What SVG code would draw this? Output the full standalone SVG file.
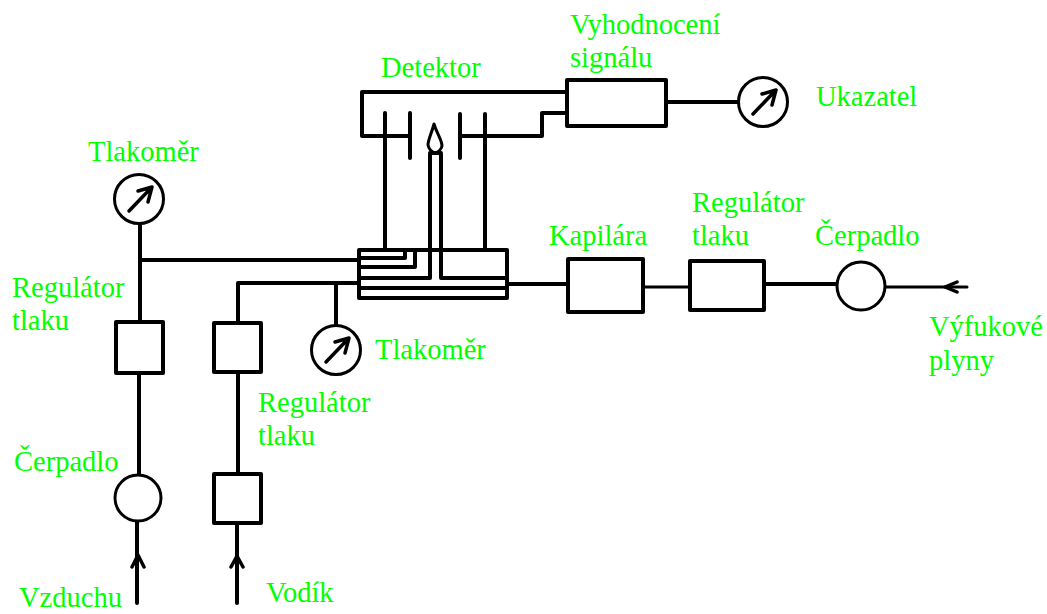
<svg xmlns="http://www.w3.org/2000/svg" width="1047" height="614" viewBox="0 0 1047 614">
<style>
.l{fill:none;stroke:#000;stroke-width:4;stroke-linecap:round;stroke-linejoin:round}
.t{stroke-width:3}
.b{fill:#fff;stroke:#000;stroke-width:4;stroke-linejoin:round}
.c{fill:#fff;stroke:#000;stroke-width:3}
.a{fill:none;stroke:#000;stroke-width:3.5;stroke-linecap:round;stroke-linejoin:round}
text{font-family:"Liberation Serif","Times New Roman",serif;font-size:28.5px;fill:#00ff00}
</style>
<defs>
<g id="gauge"><circle class="c" r="24.5"/><path class="a" d="M-10 12L13 -12M-1 -8L13 -12L9 3"/></g>
</defs>
<rect width="1047" height="614" fill="#fff"/>
<g id="manifold">
<rect class="b" x="359" y="250" width="148" height="48"/>
<path class="l" d="M359 258H405V250M359 267H415V250M359 288H507"/>
</g>
<g id="connectors">
<path class="l" d="M567 92H362V136H410M410 113V158M385 113V249M460 114V158M460 136H542V113H567M485 114V249"/>
<path class="l" d="M430 154V278H360M441 154V278H507M430 153H441"/>
<path class="l" d="M140 225V321M140 260H357M139 374V476M137 520V603M238 283H357M238 283V322M238 372V473M237 524V603M336 283V325"/>
<path class="l" d="M667 102H740M508 284H567M765 284H837"/>
<path class="l t" d="M643 287H689M885 287H967"/>
<path class="a" d="M132 567L138 555L144 567M231 567L237 556L243 567M957 282L945 287L957 292"/>
</g>
<g id="flame"><path class="l t" d="M434 124C431 135 428 140 428 145C429 150 432 152 435 153C438 152 441 150 442 146C442 140 437 134 434 124Z"/></g>
<g id="signal"><rect class="b" x="567" y="80" width="99" height="46"/></g>
<g id="capillary"><rect class="b" x="568" y="259" width="75" height="53"/></g>
<g id="regulator-right"><rect class="b" x="690" y="261" width="74" height="49"/></g>
<g id="regulator-air"><rect class="b" x="116" y="322" width="47" height="51"/></g>
<g id="regulator-h1"><rect class="b" x="214" y="323" width="47" height="49"/></g>
<g id="regulator-h2"><rect class="b" x="214" y="474" width="47" height="49"/></g>
<g id="pump-right"><circle class="c" cx="861" cy="286" r="24"/></g>
<g id="pump-air"><circle class="c" cx="138" cy="498" r="23"/></g>
<g id="gauge-top"><use href="#gauge" x="139" y="199"/></g>
<g id="gauge-mid"><use href="#gauge" x="336" y="350"/></g>
<g id="gauge-ind"><use href="#gauge" x="763" y="102"/></g>
<g id="labels">
<text x="570" y="34">Vyhodnocení</text>
<text x="570" y="67">signálu</text>
<text x="381" y="77">Detektor</text>
<text x="816" y="106">Ukazatel</text>
<text x="88" y="161">Tlakoměr</text>
<text x="549" y="245">Kapilára</text>
<text x="692" y="212">Regulátor</text>
<text x="692" y="245">tlaku</text>
<text x="815" y="245">Čerpadlo</text>
<text x="12" y="297">Regulátor</text>
<text x="12" y="330">tlaku</text>
<text x="375" y="359">Tlakoměr</text>
<text x="929" y="336">Výfukové</text>
<text x="929" y="370">plyny</text>
<text x="258" y="412">Regulátor</text>
<text x="258" y="445">tlaku</text>
<text x="14" y="471">Čerpadlo</text>
<text x="19" y="607">Vzduchu</text>
<text x="266" y="602">Vodík</text>
</g>
</svg>
